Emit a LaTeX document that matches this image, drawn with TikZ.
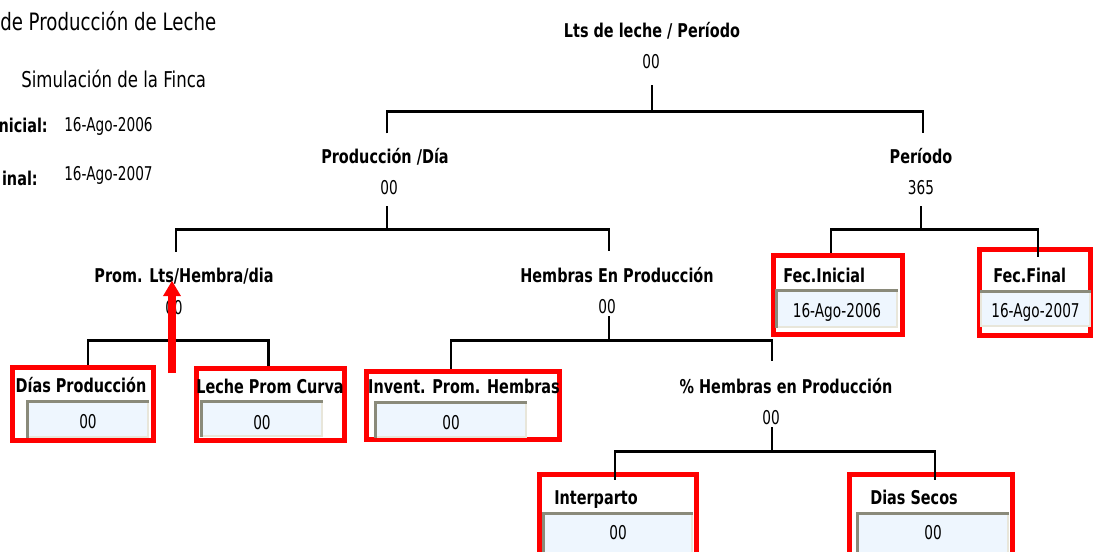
\documentclass[tikz,border=0pt]{standalone}
\usepackage{fontspec}
\setmainfont{DejaVu Sans}[FakeStretch=0.76]
\newfontfamily\valfont{DejaVu Sans}[FakeStretch=0.72]
\usetikzlibrary{positioning, calc, fit, arrows.meta}
\definecolor{framered}{RGB}{255,0,0}
\definecolor{fieldblue}{RGB}{238,246,254}
\definecolor{beveldark}{RGB}{138,138,122}
\definecolor{bevellight}{RGB}{232,230,218}
\tikzset{
        head-text/.style={font=\fontsize{17}{19}\selectfont, inner sep=0pt, anchor=base west},
        lbl/.style={font=\bfseries\fontsize{13.5}{15}\selectfont, inner sep=0pt, anchor=base},
        val/.style={font=\valfont\fontsize{13.5}{15}\selectfont, inner sep=0pt, anchor=base},
        tree/.style={line width=2.1pt, black},
        redbox/.style={draw=framered, line width=3.6pt, inner sep=0pt},
        field/.style={fill=fieldblue, draw=bevellight, line width=0.8pt, inner sep=0pt},
        bevel/.style={draw=beveldark, line width=1.8pt},
}

\begin{document}
\begin{tikzpicture}[x=0.025cm, y=-0.025cm]
        \useasboundingbox[fill=white] (0,0) rectangle (1093,552);

        % HEADER TEXT (top left)
        \node[head-text]                 (title)  at (0,30)    {de Producción de Leche};
        \node[head-text, font=\fontsize{15.5}{17}\selectfont] (sim) at (21,87) {Simulación de la Finca};
        \node[lbl, anchor=base east]     (inil)   at (48,132)  {nicial:};
        \node[val, anchor=base west]     (iniv)   at (64,131)  {16-Ago-2006};
        \node[lbl, anchor=base east]     (finl)   at (38,185)  {inal:};
        \node[val, anchor=base west]     (finv)   at (64,180)  {16-Ago-2007};

        % TREE LABELS AND VALUES
        \node[lbl] (rootl) at (652,37)  {Lts de leche / Período};
        \node[val] (rootv) at (651,68)  {00};
        \node[lbl] (prodl) at (385,163) {Producción /Día};
        \node[val] (prodv) at (389,194) {00};
        \node[lbl] (perl)  at (921,163) {Período};
        \node[val] (perv)  at (921,194) {365};
        \node[lbl] (proml) at (184,282) {Prom. Lts/Hembra/dia};
        \node[val] (promv) at (174,314) {00};
        \node[lbl] (heml)  at (617,282) {Hembras En Producción};
        \node[val] (hemv)  at (607,313) {00};
        \node[lbl] (pctl)  at (786,393) {\% Hembras en Producción};
        \node[val] (pctv)  at (771,424) {00};

        % RED FRAMES
        \node[redbox, fit={(12.5,367.5) (153.5,440.5)}]  (dias)   {};
        \node[redbox, fit={(196.5,368.5) (344.5,440.5)}] (leche)  {};
        \node[redbox, fit={(366.5,371.5) (559.5,439.5)}] (invent) {};
        \node[redbox, fit={(773.5,255.5) (902.5,334.5)}] (fecini) {};
        \node[redbox, fit={(979.5,249.5) (1090.5,335.5)}] (fecfin) {};
        \node[redbox, fit={(539.5,474.5) (696.5,562)}]   (inter)  {};
        \node[redbox, fit={(849.5,474.5) (1012.5,562)}]  (secos)  {};

        % FIELDS
        \node[field, fit={(28,402) (148,437)}]   (diasf)   {};
        \node[field, fit={(202,402) (322,436)}]  (lechef)  {};
        \node[field, fit={(376,403) (526,437)}]  (inventf) {};
        \node[field, fit={(777,291) (897,327)}]  (fecinif) {};
        \node[field, fit={(981,292) (1090,326)}] (fecfinf) {};
        \node[field, fit={(544,514) (692,556)}]  (interf)  {};
        \node[field, fit={(858,514) (1008,556)}] (secosf)  {};
        \foreach \f in {diasf, lechef, inventf, fecinif, interf, secosf}
            \draw[bevel] (\f.south west) |- (\f.north east);
        \draw[bevel] (fecfinf.north west) -- (fecfinf.north east);

        % FIELD VALUES
        \node[val] (diasv)   at ($(diasf.north)+(0,27)$)   {00};
        \node[val] (lechev)  at ($(lechef.north)+(0,28)$)  {00};
        \node[val] (inventv) at ($(inventf.north)+(0,27)$) {00};
        \node[val] (feciniv) at ($(fecinif.north)+(0,27)$) {16-Ago-2006};
        \node[val] (fecfinv) at ($(fecfinf.north)+(0,26)$) {16-Ago-2007};
        \node[val] (interv)  at ($(interf.north)+(0,26)$)  {00};
        \node[val] (secosv)  at ($(secosf.north)+(0,26)$)  {00};

        % FRAME LABELS
        \node[lbl]                   (diasl)   at (81,392)  {Días Producción};
        \node[lbl]                   (lechel)  at (270,393) {Leche Prom Curva};
        \node[lbl]                   (inventl) at (464,393) {Invent. Prom. Hembras};
        \node[lbl, anchor=base west] (fecinil) at (783,282) {Fec.Inicial};
        \node[lbl, anchor=base west] (fecfinl) at (993,282) {Fec.Final};
        \node[lbl, anchor=base west] (interl)  at (554,504) {Interparto};
        \node[lbl, anchor=base west] (secosl)  at (870,504) {Dias Secos};

        % CONNECTOR POINTS
        \coordinate (rt-s) at ($(rootv)+(1,24)$);
        \coordinate (rt-b) at ($(rt-s)+(0,26)$);
        \coordinate (pd-t) at ($(prodl)+(2,-23)$);
        \coordinate (pe-t) at ($(perl)+(2,-23)$);
        \coordinate (pd-s) at ($(prodv)+(-2,19)$);
        \coordinate (pd-b) at ($(pd-s)+(0,23)$);
        \coordinate (pm-t) at ($(proml)+(-8,-24)$);
        \coordinate (hm-t) at ($(heml)+(-8,-24)$);
        \coordinate (pe-s) at ($(perv)+(0,19)$);
        \coordinate (pe-b) at ($(pe-s)+(0,23)$);
        \coordinate (fi-t) at ($(fecini.north)+(-7,0)$);
        \coordinate (ff-t) at ($(fecfin.north)+(3,10)$);
        \coordinate (pm-s) at ($(promv)+(-1,8)$);
        \coordinate (pm-b) at ($(promv)+(-1,33)$);
        \coordinate (di-t) at ($(dias.north)+(5,0)$);
        \coordinate (le-t) at ($(leche.north)+(-2,0)$);
        \coordinate (hm-s) at ($(hemv)+(2,10)$);
        \coordinate (hm-b) at ($(hm-s)+(0,24)$);
        \coordinate (iv-t) at ($(invent.north)+(-12,0)$);
        \coordinate (pc-t) at ($(pctl)+(-14,-25)$);
        \coordinate (pc-s) at ($(pctv)+(1,10)$);
        \coordinate (pc-b) at ($(pc-s)+(0,24)$);
        \coordinate (it-t) at ($(inter.north)+(-3,8)$);
        \coordinate (sc-t) at ($(secos.north)+(4,8)$);

        % CONNECT TREE
        \draw[tree] (rt-s) -- (rt-b);
        \draw[tree] (pd-t) |- (rt-b) -| (pe-t);
        \draw[tree] (pd-s) -- (pd-b);
        \draw[tree] (pm-t) |- (pd-b) -| (hm-t);
        \draw[tree] (pe-s) -- (pe-b);
        \draw[tree] (fi-t) |- (pe-b) -| (ff-t);
        \draw[tree] (pm-s) -- (pm-b);
        \draw[tree] (di-t) |- (pm-b) -| (le-t);
        \draw[tree] (hm-s) -- (hm-b);
        \draw[tree] (iv-t) |- (hm-b) -| (pc-t);
        \draw[tree] (pc-s) -- (pc-b);
        \draw[tree] (it-t) |- (pc-b) -| (sc-t);

        % RED ARROW
        \coordinate (arr-s) at ($(promv)+(-2,66)$);
        \coordinate (arr-e) at ($(proml)+(-12,5)$);
        \draw[framered, line width=5pt, -{Triangle[length=11pt, width=12pt]}] (arr-s) -- (arr-e);

\end{tikzpicture}
\end{document}
